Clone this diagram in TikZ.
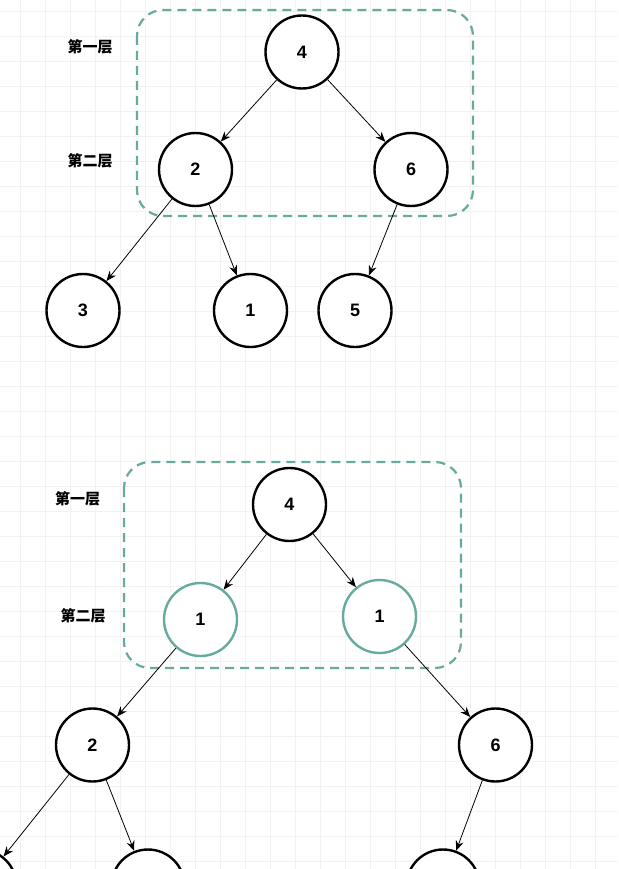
\documentclass[tikz,border=0pt]{standalone}
\usepackage{fontspec}
\setmainfont{Liberation Sans}
\newfontfamily\cjk{Noto Sans CJK SC}
\usetikzlibrary{arrows.meta}
\definecolor{levelgreen}{HTML}{67AB9F}

\begin{document}
\begin{tikzpicture}[x=1pt, y=-1pt,
  treenode/.style={circle, draw=black, fill=white, line width=2.4pt, minimum size=73pt, inner sep=0pt, font=\fontsize{18}{20}\selectfont\bfseries},
  greennode/.style={treenode, draw=levelgreen},
  levelbox/.style={draw=levelgreen, line width=2.2pt, dash pattern=on 9pt off 6pt, rounded corners=26pt},
  levellabel/.style={font=\cjk\fontsize{15}{18}\selectfont\bfseries},
  gridline/.style={draw=gray!10, line width=0.7pt},
  arrow/.style={line width=0.8pt, -{Stealth[length=10pt, width=8pt]}}]

\clip (0,0) rectangle (618,869);
\fill[white] (0,0) rectangle (618,869);
\foreach \gx in {0,...,24} \draw[gridline] ({20.7+25*\gx},0) -- ++(0,869);
\foreach \gy in {0,...,34} \draw[gridline] (0,{11+25*\gy}) -- ++(618,0);

% upper tree
\draw[levelbox] (137,10) rectangle (473,216);
\node[levellabel] (upfirst) at (90,47) {第一层};
\node[levellabel] (upsecond) at (90,161) {第二层};

\node[treenode] (upfour) at (302,52) {4};
\node[treenode] (uptwo) at (195.5,169.5) {2};
\node[treenode] (upsix) at (411,169.5) {6};
\node[treenode] (upthree) at (83,310.5) {3};
\node[treenode] (upone) at (250.5,310.5) {1};
\node[treenode] (upfive) at (355,310.5) {5};

\draw[arrow] (upfour) -- (uptwo);
\draw[arrow] (upfour) -- (upsix);
\draw[arrow] (uptwo) -- (upthree);
\draw[arrow] (uptwo) -- (upone);
\draw[arrow] (upsix) -- (upfive);

% lower tree
\draw[levelbox] (124,462) rectangle (461,668);
\node[levellabel] (lowfirst) at (77.5,499) {第一层};
\node[levellabel] (lowsecond) at (83,616) {第二层};

\node[treenode] (lowfour) at (289.5,504.5) {4};
\node[greennode] (lowleft) at (200.5,619.5) {1};
\node[greennode] (lowright) at (379.5,616.5) {1};
\node[treenode] (lowtwo) at (92.5,745) {2};
\node[treenode] (lowsix) at (495.5,745) {6};
\node[treenode] (lowtwoa) at (-20,886) {};
\node[treenode] (lowtwob) at (148,886) {};
\node[treenode] (lowsixa) at (443,886) {};

\draw[arrow] (lowfour) -- (lowleft);
\draw[arrow] (lowfour) -- (lowright);
\draw[arrow] (lowleft) -- (lowtwo);
\draw[arrow] (lowright) -- (lowsix);
\draw[arrow] (lowtwo) -- (lowtwoa);
\draw[arrow] (lowtwo) -- (lowtwob);
\draw[arrow] (lowsix) -- (lowsixa);

\end{tikzpicture}
\end{document}
